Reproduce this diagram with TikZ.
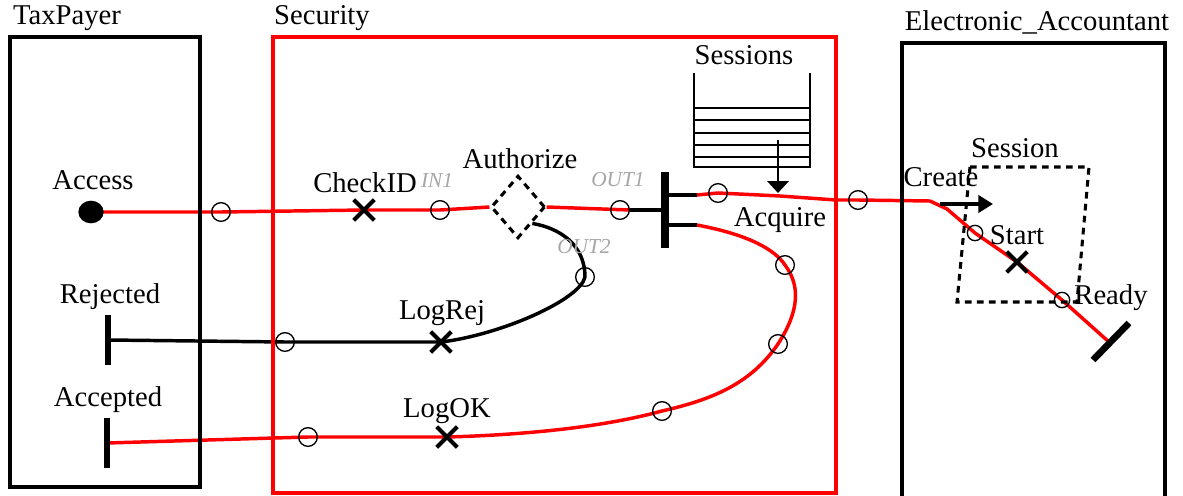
\documentclass[tikz,border=0pt]{standalone}
\usepackage{fontspec}
\setmainfont{Liberation Serif}
\usetikzlibrary{arrows.meta,shapes.misc,shapes.geometric}
\pgfdeclarelayer{bg}
\pgfsetlayers{bg,main}
\begin{document}
\begin{tikzpicture}[x=0.75pt,y=0.75pt,
  lbl/.style={font=\fontsize{21.5pt}{24pt}\selectfont, inner sep=0},
  portlbl/.style={font=\fontsize{16pt}{18pt}\selectfont\itshape, text=black!35, inner sep=0},
  hole/.style={circle, draw=black, line width=1pt, inner sep=0, minimum size=14pt},
  xmark/.style={cross out, draw=black, line width=3pt, inner sep=0, minimum size=12.5pt},
  redline/.style={draw=red, line width=2.6pt},
  blkline/.style={draw=black, line width=2.6pt},
  barnode/.style={rectangle, fill=black, inner sep=0, minimum width=4.5pt},
  frame/.style={line width=2.8pt},
  dashedbox/.style={draw=black, line width=2.3pt, dash pattern=on 5pt off 4pt},
  qline/.style={line width=2.2pt},
]
\useasboundingbox (0,0) rectangle (1183,-496);
\clip (0,0) rectangle (1183,-496);
\begin{pgfonlayer}{bg}
\fill[white] (0,0) rectangle (1183,-496);
\end{pgfonlayer}

% containers
\draw[frame] (10,-37) rectangle (200,-487);
\node[lbl] (tpl) at (67,-18) {TaxPayer};
\draw[frame, red] (273,-37) rectangle (836,-493);
\node[lbl] (secl) at (322,-18) {Security};
\draw[frame] (902,-43) rectangle (1165,-520);
\node[lbl] (eal) at (1037,-22) {Electronic\_Accountant};

% TaxPayer elements
\node[ellipse, fill=black, minimum width=19pt, minimum height=17pt, inner sep=0] (access) at (91,-212) {};
\node[lbl] (accessl) at (93,-180) {Access};
\node[barnode, minimum height=37pt] (rejbar) at (108,-340) {};
\node[lbl] (rejl) at (110,-297) {Rejected};
\node[barnode, minimum height=37pt] (accbar) at (107,-443) {};
\node[lbl] (accl) at (108,-400) {Accepted};

% Security elements
\node[hole] (h1) at (221,-212) {};
\node[xmark] (checkid) at (364,-210) {};
\node[lbl] (checkidl) at (365,-183) {CheckID};
\node[portlbl] (in1l) at (437,-180) {IN1};
\node[hole] (h2) at (440,-210) {};
\node[diamond, dashedbox, minimum width=40.5pt, minimum height=47pt, inner sep=0] (auth) at (518,-207) {};
\node[lbl] (authl) at (520,-159) {Authorize};
\node[portlbl] (out1l) at (618,-180) {OUT1};
\node[portlbl] (out2l) at (584,-247) {OUT2};
\node[hole] (h3) at (620,-210) {};
\node[barnode, minimum width=5.5pt, minimum height=57pt] (mainbar) at (665,-210) {};
\node[hole] (h4) at (718,-193) {};
\node[hole] (h5) at (858,-200) {};
\node[hole] (h6) at (785,-265) {};
\node[hole] (h7) at (778,-344) {};
\node[hole] (h8) at (662,-411) {};
\node[hole] (h9) at (308,-437) {};
\node[hole] (h10) at (585,-277) {};
\node[hole] (h11) at (285,-342) {};
\node[xmark] (logrej) at (441,-342) {};
\node[lbl] (logrejl) at (442,-313) {LogRej};
\node[xmark] (logok) at (447,-437) {};
\node[lbl] (logokl) at (447,-411) {LogOK};
\node[lbl] (acql) at (780,-220) {Acquire};

% Sessions queue
\node[lbl] (sessl) at (744,-55) {Sessions};
\draw[qline] (694,-73) -- (694,-167) -- (810,-167) -- (810,-73);
\foreach \yy in {108,120,133,145,157}
  \draw[qline] (694,-\yy) -- (810,-\yy);
\coordinate (sessq) at (778,-140);
\coordinate (acqpt) at (778,-193);
\draw[qline, -{Triangle[length=9pt,width=16pt]}] (sessq) -- (acqpt);

% Electronic_Accountant elements
\draw[dashedbox] (970,-167) -- (1089,-167) -- (1077,-302) -- (957,-302) -- cycle;
\node[lbl] (sessionl) at (1015,-148) {Session};
\node[lbl] (createl) at (941,-177) {Create};
\coordinate (cr1) at (940,-204);
\coordinate (cr2) at (993,-204);
\draw[line width=2.4pt, -{Triangle[length=11pt,width=13pt]}] (cr1) -- (cr2);
\node[hole, minimum size=11.5pt] (hs) at (975,-233) {};
\node[lbl] (startl) at (1017,-235) {Start};
\node[xmark] (xea) at (1017,-262) {};
\node[hole, minimum size=11.5pt] (hr) at (1062,-300) {};
\node[lbl] (readyl) at (1111,-298) {Ready};
\coordinate (rb1) at (1093,-360);
\coordinate (rb2) at (1129,-323);
\draw[line width=5pt] (rb1) -- (rb2);

% connectors
\coordinate (u1) at (697,-195);
\coordinate (u2) at (780,-196);
\coordinate (u3) at (836,-200);
\coordinate (u4) at (930,-201);
\coordinate (u5) at (947,-209);
\coordinate (rend) at (1109,-342);
\coordinate (l1) at (697,-225);
\begin{pgfonlayer}{bg}
\draw[redline] (access.center) -- (h1.center) -- (checkid.center) -- (h2.center) -- (auth.west);
\draw[redline] (auth.east) -- (h3.east);
\draw[blkline] (h3.east) -- (mainbar.center);
\draw[blkline] (mainbar.center |- u1) -- (u1);
\draw[redline] (u1) -- (h4.center) -- (u2) -- (u3) -- (h5.center) -- (u4) -- (u5) -- (hs.center) -- (xea.center) -- (hr.center) -- (rend);
\draw[blkline] (mainbar.center |- l1) -- (l1);
\draw[redline] (l1) .. controls (750,-235) and (775,-250) .. (h6.center)
  .. controls (800,-285) and (800,-310) .. (h7.center)
  .. controls (750,-385) and (710,-400) .. (h8.center)
  .. controls (600,-428) and (520,-435) .. (logok.center)
  -- (h9.center) -- (accbar.center);
\draw[blkline] (auth.south east) .. controls (560,-228) and (585,-245) .. (h10.center)
  .. controls (580,-300) and (500,-335) .. (logrej.center)
  -- (h11.center) -- (rejbar.center);
\end{pgfonlayer}
\end{tikzpicture}
\end{document}
